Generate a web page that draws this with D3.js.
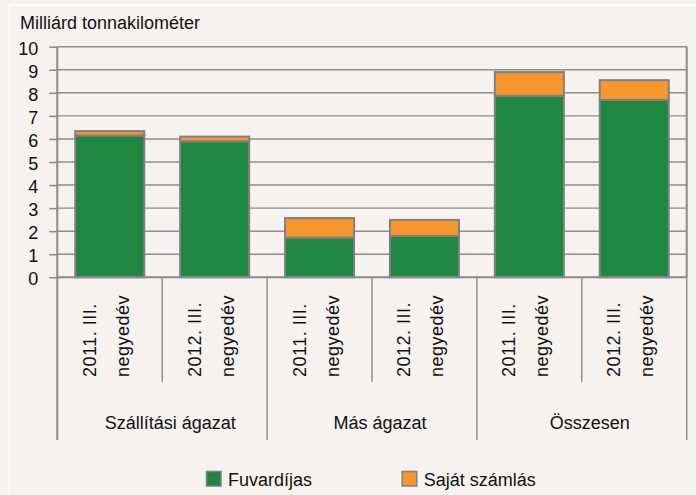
<!DOCTYPE html>
<html>
<head>
<meta charset="utf-8">
<script src="https://cdn.jsdelivr.net/npm/d3@7"></script>
<style>
  html, body { margin: 0; padding: 0; background: #F5F2EF; }
  svg { display: block; }
  text { font-family: "Liberation Sans", Arial, sans-serif; fill: #111; }
</style>
</head>
<body>
<svg id="chart" width="696" height="495"></svg>
<script>
// ---- data ----
const groups = ["Szállítási ágazat", "Más ágazat", "Összesen"];
const periodLine1 = ["2011. III.", "2012. III.", "2011. III.", "2012. III.", "2011. III.", "2012. III."];
const periodLine2 = ["negyedév", "negyedév", "negyedév", "negyedév", "negyedév", "negyedév"];
const seriesNames = ["Fuvardíjas", "Saját számlás"];
const fuvardijas = [6.15, 5.90, 1.72, 1.79, 7.87, 7.69];
const sajatSzamlas = [0.19, 0.20, 0.85, 0.70, 1.03, 0.86];
const yTicks = [0, 1, 2, 3, 4, 5, 6, 7, 8, 9, 10];
const yTitle = "Milliárd tonnakilométer";

const colors = ["#1F8742", "#F7962D"];

(function () {
const svg = d3.select("#chart");
const W = 696, H = 495;

// background & frame
svg.append("rect").attr("x", 0).attr("y", 0).attr("width", W).attr("height", H).attr("fill", "#F5F2EF");
svg.append("rect").attr("x", 9).attr("y", 5).attr("width", W + 10).attr("height", H + 10)
  .attr("fill", "none").attr("stroke", "#FFFFFF").attr("stroke-width", 1.5);

const pL = 57.3, pR = 686.7, pT = 46.7, pB = 277.3;
const idx = d3.range(fuvardijas.length);

const x = d3.scaleBand().domain(idx).range([pL, pR])
  .paddingInner(0.342).paddingOuter(0.171);
const y = d3.scaleLinear().domain([0, 10]).range([pB, pT]);

const gridColor = "#8E8E8E", axisColor = "#8A8A8A";

// gridlines
svg.append("g").selectAll("line").data(yTicks.filter(d => d > 0)).join("line")
  .attr("x1", pL).attr("x2", pR)
  .attr("y1", d => y(d)).attr("y2", d => y(d))
  .attr("stroke", gridColor).attr("stroke-width", 1.4);

// right border
svg.append("line").attr("x1", pR).attr("x2", pR).attr("y1", pT).attr("y2", pB)
  .attr("stroke", axisColor).attr("stroke-width", 2);

// y axis
const yAxis = d3.axisLeft(y).tickValues(yTicks).tickSize(8).tickPadding(11).tickFormat(d3.format("d"));
const gy = svg.append("g").attr("transform", `translate(${pL},0)`).call(yAxis);
gy.select(".domain").remove();
gy.selectAll(".tick line").attr("stroke", axisColor).attr("stroke-width", 1.5);
gy.selectAll(".tick text").attr("font-size", 18).attr("fill", "#111").attr("dy", "0.42em")
  .style("font-family", "'Liberation Sans', Arial, sans-serif");

// title
svg.append("text").attr("x", 20).attr("y", 28.5).attr("font-size", 18).text(yTitle);

// stacked bars
const rows = idx.map(i => ({ i, s0: fuvardijas[i], s1: sajatSzamlas[i] }));
const stack = d3.stack().keys(["s0", "s1"])(rows);
svg.append("g").selectAll("g").data(stack).join("g")
  .attr("fill", (d, k) => colors[k])
  .selectAll("rect").data(d => d).join("rect")
  .attr("x", d => x(d.data.i))
  .attr("width", x.bandwidth())
  .attr("y", d => y(d[1]))
  .attr("height", d => y(d[0]) - y(d[1]))
  .attr("stroke", "#808080").attr("stroke-width", 2);

// zero line
svg.append("line").attr("x1", pL).attr("x2", pR).attr("y1", pB).attr("y2", pB)
  .attr("stroke", axisColor).attr("stroke-width", 2);

// category dividers (incl. left axis line)
const step = x.step();
const dividers = d3.range(fuvardijas.length + 1);
svg.append("g").selectAll("line").data(dividers).join("line")
  .attr("x1", d => pL + d * step).attr("x2", d => pL + d * step)
  .attr("y1", d => d === 0 ? pT : pB)
  .attr("y2", d => d % 2 === 0 ? 440 : 381.7)
  .attr("stroke", axisColor).attr("stroke-width", d => d === 0 ? 2 : 1.4);

// rotated period labels
const lab = svg.append("g").selectAll("g").data(idx).join("g")
  .attr("transform", d => `translate(${x(d) + x.bandwidth() / 2},377) rotate(-90)`);
lab.append("text").attr("x", 0).attr("y", -14).attr("font-size", 18).attr("text-anchor", "start")
  .attr("letter-spacing", 0.5).text(d => periodLine1[d]);
lab.append("text").attr("x", 0).attr("y", 19).attr("font-size", 18).attr("text-anchor", "start")
  .attr("letter-spacing", 0.5).text(d => periodLine2[d]);

// group labels
svg.append("g").selectAll("text").data(groups).join("text")
  .attr("x", (d, k) => pL + (2 * k + 1) * step + 8)
  .attr("y", 428.5).attr("font-size", 18).attr("text-anchor", "middle")
  .text(d => d);

// legend
const leg = svg.append("g").selectAll("g").data(seriesNames).join("g")
  .attr("transform", (d, k) => `translate(${206 + k * 195.7},471)`);
leg.append("rect").attr("x", 0.5).attr("y", 0.5).attr("width", 14.5).attr("height", 14.5)
  .attr("fill", (d, k) => colors[k]).attr("stroke", "#808080").attr("stroke-width", 1.5);
leg.append("text").attr("x", 22).attr("y", 14.5).attr("font-size", 18).text(d => d);
})();
</script>
</body>
</html>
